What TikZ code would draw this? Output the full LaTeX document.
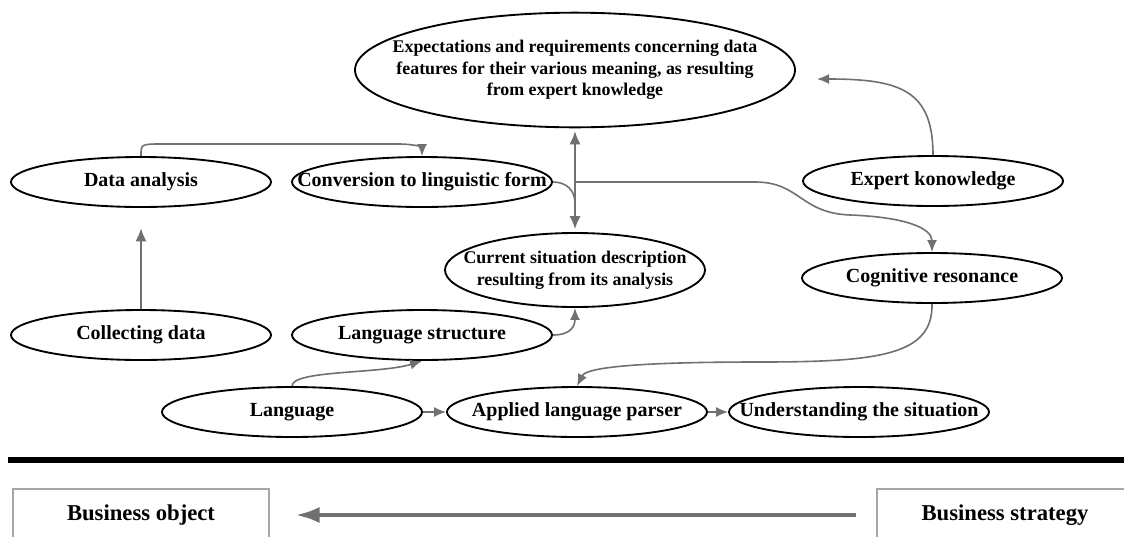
\documentclass[tikz,border=0pt]{standalone}
\usepackage{fontspec}
\setmainfont{Liberation Serif}
\usetikzlibrary{shapes.geometric,arrows.meta}

\definecolor{linkgray}{RGB}{112,112,112}
\definecolor{framegray}{RGB}{165,165,165}

\tikzset{every picture/.style={line width=0.75pt}}
\tikzset{
  oval/.style={draw, ellipse, line width=1.4pt, minimum width=195pt, minimum height=37.5pt, inner sep=0pt},
  longtxt/.style={font=\fontsize{13.4}{16.3}\selectfont\bfseries, align=center},
  link/.style={draw=linkgray, line width=1.2pt, -{Latex[length=9pt,width=7.5pt]}},
  biglink/.style={draw=linkgray, line width=2pt, -{Latex[length=10pt,width=8.5pt]}},
  bizbox/.style={draw=framegray, line width=0.8pt, minimum width=192pt, minimum height=39pt, font=\fontsize{17}{20}\selectfont\bfseries}
}

\begin{document}
\begin{tikzpicture}[x=0.75pt,y=0.75pt,yscale=-1,xscale=1,font=\fontsize{15}{18}\selectfont\bfseries]

\path[use as bounding box, clip] (0,0) rectangle (1124,536);
\fill[white] (0,0) rectangle (1124,536);

% ovals
\node[oval, minimum width=330pt, minimum height=86pt, label={[longtxt]center:Expectations and requirements concerning data\\features for their various meaning, as resulting\\from expert knowledge}] (exp) at (575,70) {};
\node[oval, label=center:Data analysis] (da) at (141,182) {};
\node[oval, label=center:Conversion to linguistic form] (cf) at (422,182) {};
\node[oval, label=center:Expert konowledge] (ek) at (933,181) {};
\node[oval, minimum height=55.5pt, label={[longtxt]center:Current situation description\\resulting from its analysis}] (cs) at (575,270) {};
\node[oval, label=center:Cognitive resonance] (cr) at (932,278) {};
\node[oval, label=center:Collecting data] (cd) at (141,335) {};
\node[oval, label=center:Language structure] (ls) at (422,335) {};
\node[oval, label=center:Language] (lg) at (292,412) {};
\node[oval, label=center:Applied language parser] (ap) at (577,412) {};
\node[oval, label=center:Understanding the situation] (un) at (859,412) {};

\coordinate (split) at (575,182);
\coordinate (join) at (575,203);
\coordinate (expin) at (817,79);

% links
\draw[biglink, shorten >=15pt] (cd.north) -- (da.south);
\draw[biglink, {Latex[length=10pt,width=8.5pt]}-{Latex[length=10pt,width=8.5pt]}, shorten <=2pt, shorten >=2pt] (cs.north) -- (exp.south);
\draw[link] (da.north) .. controls (141,144) and (141,144) .. (162,144) -- (398,144) .. controls (416,144) and (422,148) .. (cf.north);
\draw[draw=linkgray, line width=1.2pt] (cf.east) .. controls (567,182) and (575,191) .. (join);
\draw[link] (split) -- (755,182) .. controls (800,182) and (800,213) .. (850,215) .. controls (905,217) and (932,228) .. (cr.north);
\draw[link] (ek.north) .. controls (933,90) and (900,79) .. (expin);
\draw[link] (ls.east) .. controls (572,335) and (575,325) .. (cs.south);
\draw[link] (lg.north) .. controls (292,370) and (380,374) .. (ls.south);
\draw[link] (cr.south) .. controls (933,355) and (880,362) .. (760,362) .. controls (610,362) and (585,370) .. (ap.north);
\draw[link] (lg.east) -- (ap.west);
\draw[link] (ap.east) -- (un.west);

% business level
\draw[line width=4.5pt] (8,460) -- (1124,460);
\node[bizbox] (bo) at (141,515) {Business object};
\node[bizbox] (bs) at (1005,515) {Business strategy};
\draw[draw=linkgray, line width=3pt, -{Latex[length=18pt,width=12pt]}, shorten <=15pt, shorten >=19.5pt] (bs.west) -- (bo.east);

\end{tikzpicture}
\end{document}
